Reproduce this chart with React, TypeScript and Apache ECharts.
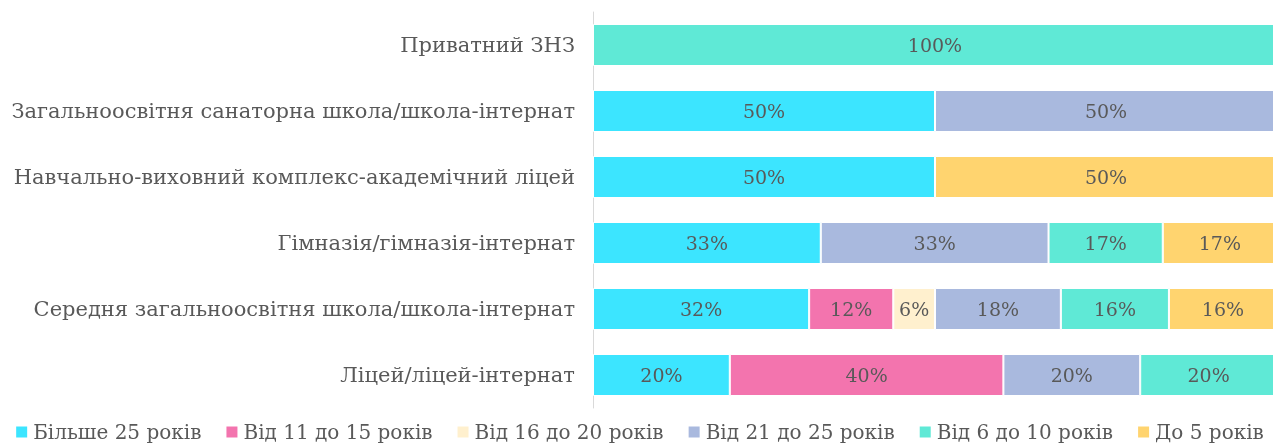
import React, { useEffect, useRef } from "react";
import * as echarts from "echarts";

const categories = [
  "Приватний ЗНЗ",
  "Загальноосвітня санаторна школа/школа-інтернат",
  "Навчально-виховний комплекс-академічний ліцей",
  "Гімназія/гімназія-інтернат",
  "Середня загальноосвітня школа/школа-інтернат",
  "Ліцей/ліцей-інтернат",
];

const seriesNames = [
  "Більше 25 років",
  "Від 11 до 15 років",
  "Від 16 до 20 років",
  "Від 21 до 25 років",
  "Від 6 до 10 років",
  "До 5 років",
];

const more25 = [0, 50, 50, 33.3, 31.6, 20];
const from11to15 = [0, 0, 0, 0, 12.3, 40];
const from16to20 = [0, 0, 0, 0, 6.1, 0];
const from21to25 = [0, 50, 0, 33.3, 18.4, 20];
const from6to10 = [100, 0, 0, 16.7, 15.8, 20];
const upTo5 = [0, 0, 50, 16.7, 15.8, 0];

const colors = ["#3CE5FF", "#F374AE", "#FFF0CE", "#A9B9DE", "#5FE9D6", "#FFD46F"];

const FONT = "DejaVu Serif";

export default function App() {
  const ref = useRef<HTMLDivElement>(null);
  useEffect(() => {
    if (!ref.current) return;
    const chart = echarts.init(ref.current, null, { renderer: "svg" });
    const values = [more25, from11to15, from16to20, from21to25, from6to10, upTo5];
    chart.setOption({
      animation: false,
      textStyle: { fontFamily: FONT },
      grid: { left: 593, right: 1, top: 12, bottom: 36, containLabel: false },
      legend: {
        bottom: -3,
        left: "center",
        itemWidth: 13,
        itemHeight: 13,
        itemGap: 23,
        icon: "rect",
        textStyle: { fontFamily: FONT, fontSize: 20, color: "#595959" },
        data: seriesNames,
      },
      xAxis: {
        type: "value",
        min: 0,
        max: 100,
        show: false,
      },
      yAxis: {
        type: "category",
        inverse: true,
        data: categories,
        axisLine: { show: true, lineStyle: { color: "#D9D9D9", width: 1 } },
        axisTick: { show: false },
        axisLabel: { fontFamily: FONT, fontSize: 21, color: "#595959", margin: 18 },
      },
      series: seriesNames.map((name, i) => ({
        name,
        type: "bar",
        stack: "total",
        barWidth: 42,
        itemStyle: { color: colors[i], borderColor: "#fff", borderWidth: 1 },
        label: {
          show: true,
          position: "inside",
          fontFamily: FONT,
          fontSize: 19,
          color: "#595959",
          formatter: (p: any) => (p.value ? Math.round(p.value) + "%" : ""),
        },
        data: values[i].map((v) => (v === 0 ? null : v)),
      })),
    });
    return () => chart.dispose();
  }, []);
  return (
    <div
      ref={ref}
      style={{ position: "fixed", left: 0, top: 0, width: 1278, height: 444 }}
    />
  );
}
